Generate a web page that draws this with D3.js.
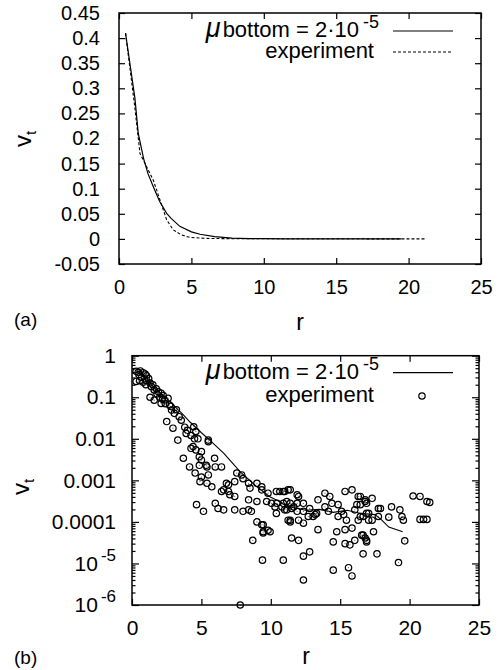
<!DOCTYPE html>
<html><head><meta charset="utf-8">
<script src="https://cdn.jsdelivr.net/npm/d3@7"></script>
<style>
html,body{margin:0;padding:0;background:#fff;}
svg text{font-family:"Liberation Sans",Arial,Helvetica,sans-serif;fill:#000;}
</style></head>
<body>
<svg id="chart" width="502" height="670"></svg>
<script>
// ---------- data ----------
const xTicks = [0, 5, 10, 15, 20, 25];
const xTickLabels = ["0", "5", "10", "15", "20", "25"];
const yTicksLin = [-0.05, 0, 0.05, 0.1, 0.15, 0.2, 0.25, 0.3, 0.35, 0.4, 0.45];
const yTickLabelsLin = ["-0.05", "0", "0.05", "0.1", "0.15", "0.2", "0.25", "0.3", "0.35", "0.4", "0.45"];
const yTicksLog = [1, 0.1, 0.01, 0.001, 0.0001, 1e-5, 1e-6];
const yTickLabelsLog = [["1"], ["0.1"], ["0.01"], ["0.001"], ["0.0001"], ["10", "-5"], ["10", "-6"]];

// simulation (mu bottom = 2e-5): [r, v_t]
const modelCurve = [
  [0.45,0.41],[0.8,0.34],[1.1,0.28],[1.33,0.21],[1.7,0.16],[2.0,0.13],[2.37,0.104],[2.8,0.075],
  [3.29,0.051],[3.6,0.041],[4.2,0.025],[5.0,0.014],[5.6,0.0093],[6.6,0.0045],[7.8,0.0016],
  [9.0,0.0007],[9.9,0.00041],[11.4,0.00023],[12.5,0.00019],[13.5,0.0002],[14.5,0.00017],
  [15.5,0.00019],[16.5,0.00016],[17.5,0.00015],[18.0,0.00011],[18.5,0.000075],[19.5,0.000058]
];
// averaged experiment (panel a, dashed): [r, v_t]
const experimentCurve = [
  [0.45,0.41],[0.8,0.33],[1.1,0.26],[1.45,0.17],[1.8,0.15],[2.37,0.117],[2.8,0.08],[3.29,0.038],
  [3.75,0.018],[4.3,0.008],[4.9,0.003],[6,0.001],[8,0.0003],[10,0.0002],[12,0.0002],[14,0.0002],
  [16,0.0002],[18,0.0001],[20,0.0001],[21.1,0.0001]
];
// experiment points (panel b): [r, v_t]
const experimentPoints = [
  [0.3,0.42],[0.45,0.40],[0.6,0.43],[0.8,0.39],[0.95,0.36],[1.05,0.33],[0.5,0.35],[0.7,0.30],
  [0.3,0.24],[0.55,0.25],[0.8,0.23],[1.05,0.25],[1.2,0.28],[1.3,0.22],[1.0,0.20],[1.5,0.20],
  [1.4,0.18],[1.6,0.15],[1.75,0.16],[1.8,0.12],[1.9,0.135],[2.1,0.125],[2.25,0.11],[2.0,0.10],
  [1.3,0.10],[1.6,0.085],[2.1,0.071],[2.35,0.086],[2.2,0.09],[2.6,0.094],[2.4,0.07],[2.7,0.065],
  [2.8,0.06],[2.85,0.049],[3.2,0.05],[3.05,0.041],[3.4,0.034],[3.55,0.028],[2.5,0.026],[2.95,0.018],
  [3.8,0.019],[4.0,0.016],[3.9,0.0135],[4.25,0.012],[4.6,0.015],[4.45,0.0195],[4.5,0.010],[4.75,0.010],
  [3.3,0.0093],[5.5,0.0093],[5.5,0.0085],[4.4,0.0065],[4.25,0.0059],[4.6,0.0054],[5.0,0.0049],[3.7,0.0034],
  [4.85,0.0037],[5.0,0.0031],[5.95,0.0034],[4.15,0.0021],[4.85,0.0023],[5.35,0.0023],[5.4,0.0021],[6.0,0.0021],[6.45,0.0021],
  [4.55,0.0015],[5.0,0.0012],[5.5,0.00135],[4.9,0.00093],[5.4,0.00085],[5.75,0.0007],
  [7.9,0.00135],[8.0,0.0011],[7.55,0.0015],[7.4,0.00093],[6.95,0.00078],[6.8,0.00085],
  [6.6,0.00059],[6.95,0.00054],[7.4,0.00041],[7.05,0.00045],[6.45,0.00054],
  [8.4,0.00085],[9.0,0.00085],[8.5,0.00065],[9.35,0.0007],[8.4,0.00034],[9.0,0.00031],
  [9.35,0.00059],[9.8,0.00049],[9.7,0.00031],[10.05,0.00028],[10.4,0.00054],[10.65,0.00054],[11.0,0.00054],[11.25,0.00059],
  [10.3,0.00023],[10.8,0.00023],[11.15,0.000195],[10.4,0.00016],[11.25,0.00011],
  [4.65,0.00026],[5.15,0.00018],[6.0,0.00028],[6.2,0.00021],[6.6,0.000195],[7.4,0.000195],[8.0,0.00018],[8.4,0.000195],[8.6,0.00018],
  [9.0,0.0001],[9.35,0.000085],[9.45,0.000058],[9.8,0.000063],[8.7,0.000036],[9.4,0.000012],[10.9,0.000012],[7.8,0.000001],
  [9.45,0.000085],[9.95,0.000058],[9.45,0.000054],[11.4,0.0001],[11.5,0.000041],[12.0,0.000036],
  [10.9,0.00054],[11.4,0.00059],[11.9,0.00045],[11.15,0.00031],[10.9,0.00028],[11.4,0.00028],[11.9,0.00028],[12.35,0.00028],
  [11.0,0.000195],[11.5,0.00021],[11.9,0.00018],[12.35,0.00018],[12.8,0.00021],[13.3,0.00016],[13.05,0.000135],[12.7,0.000135],
  [11.4,0.00011],[12.0,0.00011],[12.35,0.000093],
  [13.9,0.00049],[14.25,0.00041],[15.35,0.00054],[15.85,0.00059],[16.3,0.00041],[16.8,0.00034],[13.4,0.00034],[13.9,0.00023],
  [14.15,0.00018],[14.85,0.00026],[15.1,0.00018],[14.85,0.000135],[15.45,0.00011],[16.2,0.00026],[16.05,0.000195],[16.45,0.000135],
  [16.3,0.00011],[16.9,0.00016],[17.05,0.00011],
  [13.4,0.000065],[14.75,0.000058],[15.35,0.000065],[15.85,0.000071],[16.65,0.000048],[16.9,0.000036],
  [14.5,0.000033],[15.35,0.00003],[15.7,0.000028],[16.05,0.000036],
  [12.35,0.000015],[12.8,0.000019],[16.65,0.000017],[17.65,0.000017],
  [14.5,0.0000069],[15.6,0.0000079],[15.85,0.000005],[12.35,0.000004],
  [12.0,0.00041],[10.45,0.00028],[11.65,0.00023],[13.2,0.00015],[14.4,0.00028],[15.25,0.00015],[17.3,0.00037],[17.75,0.00021],
  [16.45,0.00041],[16.8,0.00031],[16.45,0.00026],[16.9,0.00028],[16.65,0.000135],[17.05,0.00016],[17.3,0.00011],
  [17.75,0.000135],[17.9,0.00021],[18.7,0.00023],[19.3,0.000195],[19.45,0.000135],[19.55,0.00011],[18.5,0.00013],
  [17.4,0.000058],[16.55,0.000048],[16.8,0.000041],[16.9,0.000033],[19.65,0.000035],[19.2,0.0000105],
  [20.25,0.00042],[20.75,0.00041],[21.25,0.00031],[21.45,0.000295],[20.75,0.000115],[21.0,0.000115],[21.25,0.000115]
];
const legendModel = ["\u03bc", "bottom", " = 2\u00b710", "-5"];
const legendExp = "experiment";

// ---------- drawing ----------
const svg = d3.select("#chart");
svg.append("rect").attr("width", 502).attr("height", 670).attr("fill", "#fff");

function frame(g, x, y) {
  const [x0, x1] = x.range(), [y1, y0] = y.range();
  g.append("rect").attr("x", x0).attr("y", y0).attr("width", x1 - x0).attr("height", y1 - y0)
    .attr("fill", "none").attr("stroke", "#000").attr("stroke-width", 1.5);
}
function styleAxis(sel, fs) {
  sel.select(".domain").remove();
  sel.selectAll(".tick line").attr("stroke", "#000").attr("stroke-width", 1.2);
  sel.selectAll(".tick text").attr("font-size", fs).attr("font-family", "Liberation Sans, Arial, sans-serif").attr("fill", "#000");
}
function legend(g, xEnd, yLine1, yLine2, fs, expMark) {
  const t = g.append("text").attr("x", xEnd - 30).attr("y", yLine1 + 6).attr("text-anchor", "end").attr("font-size", fs);
  t.append("tspan").text(legendModel[0]).attr("font-size", fs + 5).attr("font-style", "italic");
  t.append("tspan").text(legendModel[1]).attr("dx", 2);
  t.append("tspan").text(legendModel[2]);
  g.append("text").attr("x", xEnd - 26).attr("y", yLine1 - 3).attr("font-size", fs - 4).text(legendModel[3]);
  g.append("text").attr("x", xEnd - 15).attr("y", yLine2 + 6).attr("text-anchor", "end").attr("font-size", fs).text(legendExp);
  g.append("line").attr("x1", xEnd + 4).attr("x2", xEnd + 64).attr("y1", yLine1).attr("y2", yLine1)
    .attr("stroke", "#000").attr("stroke-width", 1.2);
  expMark(g, xEnd + 4, xEnd + 64, yLine2);
}

// ===== panel (a) =====
const xA = d3.scaleLinear().domain([0, 25]).range([119, 481]);
const yA = d3.scaleLinear().domain([-0.05, 0.45]).range([264, 13]);
const gA = svg.append("g");

gA.append("g").attr("transform", "translate(0,264)")
  .call(d3.axisBottom(xA).tickValues(xTicks).tickFormat((d, i) => xTickLabels[i]).tickSize(-6).tickSizeOuter(0).tickPadding(16))
  .call(s => styleAxis(s, 20));
gA.append("g").attr("transform", "translate(0,13)")
  .call(d3.axisTop(xA).tickValues(xTicks).tickFormat("").tickSize(-6).tickSizeOuter(0)).call(s => styleAxis(s, 20));
gA.append("g").attr("transform", "translate(119,0)")
  .call(d3.axisLeft(yA).tickValues(yTicksLin).tickFormat((d, i) => yTickLabelsLin[i]).tickSize(-6).tickSizeOuter(0).tickPadding(19))
  .call(s => styleAxis(s, 20));
gA.append("g").attr("transform", "translate(481,0)")
  .call(d3.axisRight(yA).tickValues(yTicksLin).tickFormat("").tickSize(-6).tickSizeOuter(0)).call(s => styleAxis(s, 20));

const lineA = d3.line().x(d => xA(d[0])).y(d => yA(d[1]));
gA.append("path").datum(modelCurve).attr("d", lineA).attr("fill", "none").attr("stroke", "#000").attr("stroke-width", 1.2);
gA.append("path").datum(experimentCurve).attr("d", lineA).attr("fill", "none").attr("stroke", "#000")
  .attr("stroke-width", 1.1).attr("stroke-dasharray", "3,2");
frame(gA, xA, yA);
legend(gA, 389, 31, 52, 22, (g, x1, x2, y) => {
  g.append("line").attr("x1", x1).attr("x2", x2).attr("y1", y).attr("y2", y)
    .attr("stroke", "#000").attr("stroke-width", 1.1).attr("stroke-dasharray", "3,2");
});

const labA = gA.append("text").attr("transform", "translate(31,139) rotate(-90)").attr("text-anchor", "middle").attr("font-size", 24);
labA.append("tspan").text("v");
labA.append("tspan").text("t").attr("font-size", 15).attr("dy", 5);
gA.append("text").attr("x", 300).attr("y", 330).attr("text-anchor", "middle").attr("font-size", 23).text("r");
gA.append("text").attr("x", 14).attr("y", 326).attr("font-size", 19).text("(a)");

// ===== panel (b) =====
const xB = d3.scaleLinear().domain([0, 25]).range([132, 479]);
const yB = d3.scaleLog().domain([1e-6, 1]).range([605, 355.7]);
const gB = svg.append("g");

const minorLog = [];
yTicksLog.slice(1).forEach(dec => { for (let k = 2; k <= 9; k++) minorLog.push(dec * k); });

gB.append("g").attr("transform", "translate(0,605)")
  .call(d3.axisBottom(xB).tickValues(xTicks).tickFormat((d, i) => xTickLabels[i]).tickSize(-6).tickSizeOuter(0).tickPadding(15))
  .call(s => styleAxis(s, 21));
gB.append("g").attr("transform", "translate(0,355.7)")
  .call(d3.axisTop(xB).tickValues(xTicks).tickFormat("").tickSize(-6).tickSizeOuter(0)).call(s => styleAxis(s, 21));
const yAxisB = gB.append("g").attr("transform", "translate(132,0)")
  .call(d3.axisLeft(yB).tickValues(yTicksLog).tickFormat("").tickSize(-7).tickSizeOuter(0).tickPadding(16))
  .call(s => styleAxis(s, 21));
yAxisB.selectAll(".tick text").each(function(d, i) {
  const t = d3.select(this); const lab = yTickLabelsLog[i];
  t.text(null);
  if (lab.length === 1) { t.append("tspan").text(lab[0]); }
  else {
    t.append("tspan").text(lab[0]);
    t.append("tspan").text(lab[1]).attr("font-size", 17).attr("dx", 3).attr("dy", -10);
  }
});
gB.append("g").attr("transform", "translate(132,0)")
  .call(d3.axisLeft(yB).tickValues(minorLog).tickFormat("").tickSize(-3.5).tickSizeOuter(0)).call(s => styleAxis(s, 21));
gB.append("g").attr("transform", "translate(479,0)")
  .call(d3.axisRight(yB).tickValues(yTicksLog).tickFormat("").tickSize(-7).tickSizeOuter(0)).call(s => styleAxis(s, 21));
gB.append("g").attr("transform", "translate(479,0)")
  .call(d3.axisRight(yB).tickValues(minorLog).tickFormat("").tickSize(-3.5).tickSizeOuter(0)).call(s => styleAxis(s, 21));

const lineB = d3.line().x(d => xB(d[0])).y(d => yB(d[1]));
gB.append("path").datum(modelCurve).attr("d", lineB).attr("fill", "none").attr("stroke", "#000").attr("stroke-width", 1.1);

function circleMark(sel) {
  sel.append("circle").attr("r", 3.2).attr("fill", "none").attr("stroke", "#000").attr("stroke-width", 1.2);
  sel.append("circle").attr("r", 0.6).attr("fill", "#666");
}
gB.append("g").selectAll("g").data(experimentPoints).join("g")
  .attr("transform", d => `translate(${xB(d[0])},${yB(d[1])})`)
  .each(function() { circleMark(d3.select(this)); });

frame(gB, xB, yB);
legend(gB, 389, 372.7, 396, 22, (g, x1, x2, y) => {
  circleMark(g.append("g").attr("transform", `translate(${(x1 + x2) / 2 - 1},${y})`));
});

const labB = gB.append("text").attr("transform", "translate(29,487) rotate(-90)").attr("text-anchor", "middle").attr("font-size", 24);
labB.append("tspan").text("v");
labB.append("tspan").text("t").attr("font-size", 15).attr("dy", 5);
gB.append("text").attr("x", 306).attr("y", 664).attr("text-anchor", "middle").attr("font-size", 23).text("r");
gB.append("text").attr("x", 14).attr("y", 664).attr("font-size", 19).text("(b)");
</script>
</body></html>
